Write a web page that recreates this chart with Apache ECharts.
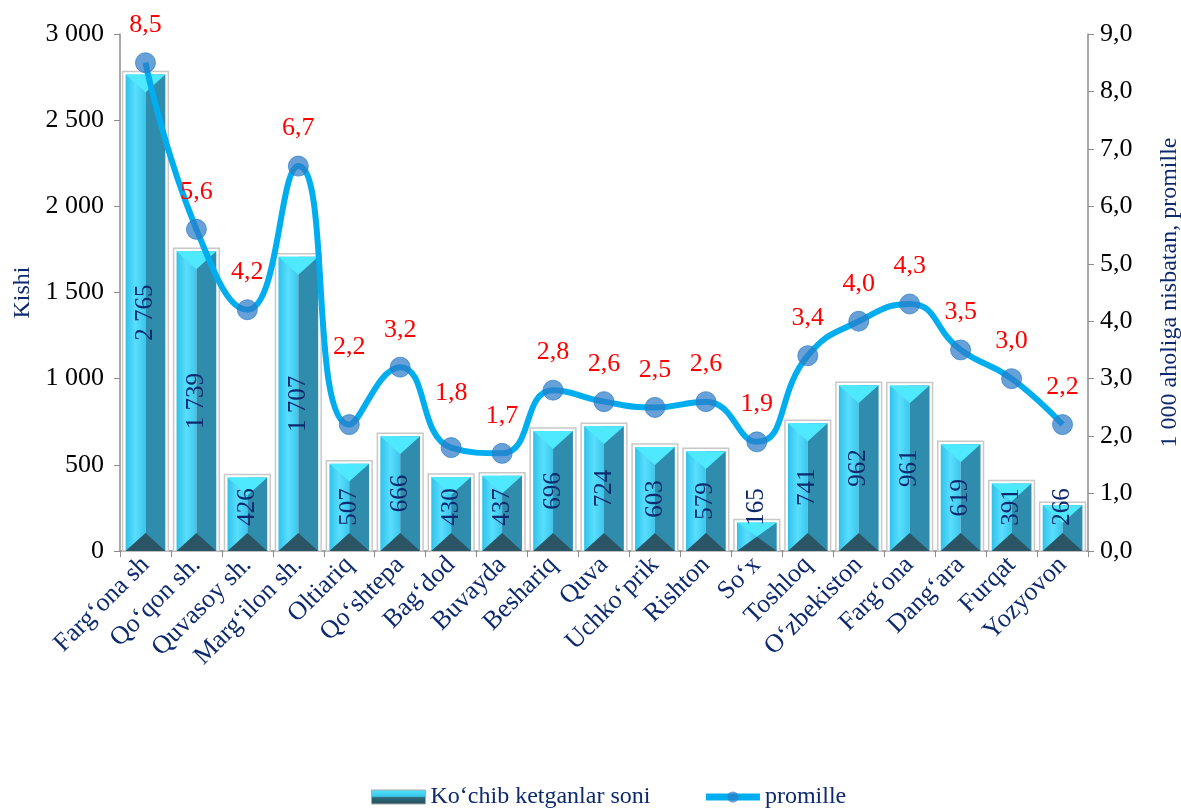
<!DOCTYPE html>
<html>
<head>
<meta charset="utf-8">
<script src="https://cdn.jsdelivr.net/npm/echarts@6/dist/echarts.min.js"></script>
<style>html,body{margin:0;padding:0;background:#fff}#c{width:1181px;height:810px}</style>
</head>
<body>
<div id="c"></div>
<script>
var categories = ['Farg‘ona sh','Qo‘qon sh.','Quvasoy sh.','Marg‘ilon sh.','Oltiariq','Qo‘shtepa','Bag‘dod','Buvayda','Beshariq','Quva','Uchko‘prik','Rishton','So‘x','Toshloq','O‘zbekiston','Farg‘ona','Dang‘ara','Furqat','Yozyovon'];
var leftCount = [2765,1739,426,1707,507,666,430,437,696,724,603,579,165,741,962,961,619,391,266];
var promille = [8.5,5.6,4.2,6.7,2.2,3.2,1.8,1.7,2.8,2.6,2.5,2.6,1.9,3.4,4.0,4.3,3.5,3.0,2.2];
var leftTicks = {min:0, max:3000, interval:500};
var rightTicks = {min:0, max:9, interval:1};

var FONT = 'Liberation Serif';
var NAVY = '#0d2a6e';

function fmtThousands(v){ return String(v).replace(/\B(?=(\d{3})+(?!\d))/g,' '); }

// extra label lifts for a few points (styling only)
var labelLift = {4: 40, 6: 17};

var chart = echarts.init(document.getElementById('c'));
var barData = leftCount.map(function(v,i){ return [i, v]; });
var lineData = promille.map(function(v,i){
  var item = {value:v};
  if (labelLift[i]) item.label = {offset:[0, -labelLift[i]]};
  return item;
});

chart.setOption({
  animation:false,
  grid:{left:120, right:93, top:34, bottom:259, outerBoundsMode:'none', containLabel:false},
  legend:{
    bottom:-4, left:366, itemGap:52, itemWidth:54, itemHeight:14,
    textStyle:{fontFamily:FONT, fontSize:24, color:NAVY},
    data:[
      {name:'Ko‘chib ketganlar soni', icon:'rect', itemStyle:{color:new echarts.graphic.LinearGradient(0,0,0,1,[{offset:0,color:'#4fe6ff'},{offset:0.45,color:'#3cc8e8'},{offset:0.55,color:'#2c6676'},{offset:1,color:'#24505e'}]), borderColor:'#aaaaaa', borderWidth:1}},
      {name:'promille', lineStyle:{width:7, color:'#00aeef'}}
    ]
  },
  xAxis:{
    type:'category', data:categories,
    axisLine:{lineStyle:{color:'#8c8c8c', width:1.5}},
    axisTick:{show:true, alignWithLabel:false, length:6, lineStyle:{color:'#8c8c8c'}},
    axisLabel:{rotate:45, interval:0, fontFamily:FONT, fontSize:26, color:NAVY, margin:10}
  },
  yAxis:[
    {type:'value', min:leftTicks.min, max:leftTicks.max, interval:leftTicks.interval,
     name:'Kishi', nameLocation:'middle', nameRotate:90, nameGap:84,
     nameTextStyle:{fontFamily:FONT, fontSize:24, color:NAVY},
     axisLine:{show:true, lineStyle:{color:'#8c8c8c', width:1.5}},
     axisTick:{show:true, length:6, lineStyle:{color:'#8c8c8c'}},
     splitLine:{show:false},
     axisLabel:{fontFamily:FONT, fontSize:26, color:'#000', margin:16, formatter:function(v){return fmtThousands(v);}}
    },
    {type:'value', min:rightTicks.min, max:rightTicks.max, interval:rightTicks.interval, position:'right',
     name:'1 000 aholiga nisbatan, promille', nameLocation:'middle', nameRotate:90, nameGap:70,
     nameTextStyle:{fontFamily:FONT, fontSize:24, color:NAVY},
     axisLine:{show:true, lineStyle:{color:'#8c8c8c', width:1.5}},
     axisTick:{show:true, length:6, lineStyle:{color:'#8c8c8c'}},
     splitLine:{show:false},
     axisLabel:{fontFamily:FONT, fontSize:26, color:'#000', margin:12, formatter:function(v){return v.toFixed(1).replace('.',',');}}
    }
  ],
  series:[
    {
      name:'Ko‘chib ketganlar soni', type:'custom', yAxisIndex:0, data:barData,
      encode:{x:0, y:1},
      itemStyle:{color:'#3cc8e8'},
      renderItem:function(params, api){
        var v = api.value(1);
        var top = api.coord([api.value(0), v]);
        var base = api.coord([api.value(0), 0]);
        var w = api.size([1,0])[0]*0.78;
        var cx = top[0], x0 = cx-w/2, x1 = cx+w/2, yT = top[1], yB = base[1];
        var h = yB - yT;
        var d = Math.min(w*0.45, h/2);
        var ly = Math.min((yT+yB)/2, yB-44);
        return {type:'group', children:[
          {type:'rect', shape:{x:x0-3, y:yT-3, width:w+6, height:h+3}, style:{fill:'#fff', stroke:'#c8c8c8', lineWidth:1.5}},
          {type:'rect', shape:{x:x0, y:yT, width:w/2, height:h}, style:{fill:new echarts.graphic.LinearGradient(0,0,1,0,[{offset:0,color:'#30c2ea'},{offset:0.5,color:'#58deff'},{offset:1,color:'#3cc6ea'}])}},
          {type:'rect', shape:{x:cx, y:yT, width:w/2, height:h}, style:{fill:'#2f8cad'}},
          {type:'polygon', shape:{points:[[x0,yT],[x1,yT],[cx,yT+d]]}, style:{fill:'#4ee8ff'}},
          {type:'polygon', shape:{points:[[x0,yB],[x1,yB],[cx,yB-d]]}, style:{fill:'#2b5564'}},
          {type:'text', x:cx, y:ly, rotation:Math.PI/2, style:{text:fmtThousands(v), fontFamily:FONT, fontSize:25, fill:NAVY, align:'center', verticalAlign:'middle'}}
        ]};
      },
      z:2
    },
    {
      name:'promille', type:'line', yAxisIndex:1, data:lineData, smooth:0.5,
      lineStyle:{color:'#00aeef', width:6},
      symbol:'circle', symbolSize:20,
      itemStyle:{color:'rgba(45,125,200,0.72)', borderColor:'rgba(45,125,200,0.72)'},
      label:{show:true, position:'top', distance:14, fontFamily:FONT, fontSize:26, color:'#ff0000',
        formatter:function(p){return p.value.toFixed(1).replace('.',',');}},
      z:5
    }
  ]
});
</script>
</body>
</html>
